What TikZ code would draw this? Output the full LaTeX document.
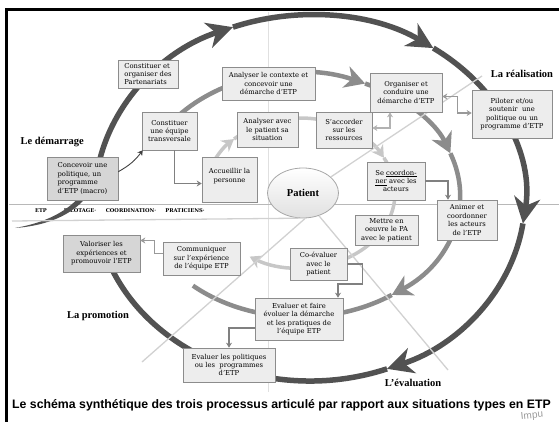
\documentclass[tikz,border=0pt]{standalone}
\usepackage{fontspec}
\setmainfont{DejaVu Serif}
\newfontfamily\titrefont{Liberation Serif}
\newfontfamily\legendefont{Liberation Sans}
\usetikzlibrary{arrows.meta,shadows,shapes.geometric}

\tikzset{
  etape/.style={draw=black!45, line width=0.6pt, fill=black!7, align=center,
    inner sep=1pt, font=\fontsize{6.8}{8.4}\selectfont,
    drop shadow={shadow xshift=1.2pt, shadow yshift=-1.2pt, opacity=0.3}},
  etapefonce/.style={etape, fill=black!16},
  phase/.style={font=\titrefont\fontsize{10.5}{12}\selectfont\bfseries},
  volet/.style={font=\fontsize{5.2}{6}\selectfont\bfseries, inner sep=0pt},
  lien/.style={draw=black!50, line width=1.2pt, -{Stealth[length=5pt,width=6pt]}},
  lienclair/.style={lien, draw=black!30},
  liensombre/.style={lien, draw=black!75, line width=0.9pt},
  rayon/.style={draw=black!18, line width=1.3pt},
  grand/.style={draw=black!68, line width=5.5pt},
  moyen/.style={draw=black!45, line width=4.5pt},
  petit/.style={draw=black!22, line width=3.5pt},
}

\begin{document}
\begin{tikzpicture}[x=1pt,y=1pt]
  \useasboundingbox (0,0) rectangle (559,-422);
  % cadre et reperes
  \draw[line width=3pt] (6.5,-422) -- (6.5,-9.5) -- (559,-9.5);
  \draw[black!12, line width=0.6pt] (268,-12) -- (268,-392);
  \draw[black!28, line width=0.8pt] (9,-204) -- (559,-204);
  \node[volet] (v1) at (41,-211) {ETP};
  \node[volet] (v2) at (80,-211) {PILOTAGE·};
  \node[volet] (v3) at (131,-211) {COORDINATION·};
  \node[volet] (v4) at (185,-211) {PRATICIENS·};

  % les trois processus
  \coordinate (co) at (310,-198);
  \coordinate (cm) at (300,-195);
  \coordinate (ci) at (300,-193);
  \fill[black!68] (15,-228) .. controls (55,-221) and (86,-203) .. (95.5,-166)
    -- (101,-166.8) .. controls (92,-207) and (57,-225) .. (15,-228);
  \foreach \p/\q in {170/111,111/55,55/-8,-8/-69}
    \draw[grand,-{Stealth[length=26pt,width=26pt,inset=8pt]}]
      ([shift={(\p:215pt and 183pt)}]co)
      arc[start angle=\p, end angle=\q, x radius=215pt, y radius=183pt];
  \draw[grand] ([shift={(-69:215pt and 183pt)}]co)
    arc[start angle=-69, end angle=-157, x radius=215pt, y radius=183pt];

  \foreach \p/\q in {140/66,66/20,20/-55}
    \draw[moyen,-{Stealth[length=20pt,width=22pt,inset=6pt]}]
      ([shift={(\p:160pt and 122pt)}]cm)
      arc[start angle=\p, end angle=\q, x radius=160pt, y radius=122pt];
  \draw[moyen] ([shift={(-55:160pt and 122pt)}]cm)
    arc[start angle=-55, end angle=-132, x radius=160pt, y radius=122pt];

  \foreach \p/\q in {160/134,134/28,28/-122}
    \draw[petit,-{Stealth[length=12pt,width=14pt,inset=4pt]}]
      ([shift={(\p:95pt and 75pt)}]ci)
      arc[start angle=\p, end angle=\q, x radius=95pt, y radius=75pt];

  % le patient et ses rayons
  \node[ellipse, draw=black!35, line width=0.8pt, top color=white, bottom color=black!12,
    minimum width=71pt, minimum height=50pt, inner sep=0pt,
    font=\titrefont\bfseries\fontsize{10.5}{12}\selectfont] (patient) at (303,-193) {Patient};
  \coordinate (rne) at (482,-76);
  \coordinate (rso) at (142,-362);
  \coordinate (rse) at (448,-370);
  \coordinate (ro) at (12,-221);
  \draw[rayon] (patient.30) -- (rne);
  \draw[rayon] (patient.-85) -- (rso);
  \draw[rayon] (patient.-55) -- (rse);
  \draw[rayon] (patient.-100) -- (ro);

  % etapes
  \node[etape, align=left, minimum width=60pt, minimum height=28pt] (partenariat) at (148,-74)
    {Constituer et\\organiser des\\Partenariats};
  \node[etape, minimum width=93pt, minimum height=33pt] (contexte) at (268.5,-83.5)
    {Analyser le contexte et\\concevoir une\\démarche d’ETP};
  \node[etape, minimum width=72pt, minimum height=39pt] (organiser) at (406,-92.5)
    {Organiser et\\conduire une\\démarche d’ETP};
  \node[etape, minimum width=80pt, minimum height=48pt] (piloter) at (512,-114)
    {Piloter et/ou\\soutenir\ \ une\\politique ou un\\programme d’ETP};
  \node[etape, minimum width=55pt, minimum height=38pt] (equipe) at (169.5,-131)
    {Constituer\\une équipe\\transversale};
  \node[etape, minimum width=61pt, minimum height=35pt] (analyse) at (267.5,-129.5)
    {Analyser avec\\le patient sa\\situation};
  \node[etape, minimum width=56pt, minimum height=36pt] (accorder) at (344,-130)
    {S’accorder\\sur les\\ressources};
  \node[etape, minimum width=55pt, minimum height=45pt] (accueil) at (229.5,-179.5)
    {Accueillir la\\personne\\~};
  \node[etapefonce, align=left, minimum width=71pt, minimum height=43pt] (concevoir) at (82.5,-178.5)
    {Concevoir une\\politique, un\\programme\\d’ETP (macro)};
  \node[etape, minimum width=58pt, minimum height=38pt] (coordon) at (396,-181)
    {Se \underline{coordon-}\\\underline{ner} avec les\\acteurs};
  \node[etape, minimum width=60pt, minimum height=40pt] (animer) at (467,-220)
    {Animer et\\coordonner\\les acteurs\\de l’ETP};
  \node[etape, minimum width=63pt, minimum height=30pt] (mettre) at (386.5,-230)
    {Mettre en\\oeuvre le PA\\avec le patient};
  \node[etape, minimum width=57pt, minimum height=32pt] (coeval) at (318.5,-264)
    {Co-évaluer\\avec le\\patient};
  \node[etape, minimum width=77pt, minimum height=33pt] (communiquer) at (201.5,-258.5)
    {Communiquer\\sur l’expérience\\de l’équipe ETP};
  \node[etapefonce, minimum width=77pt, minimum height=37pt] (valoriser) at (101.5,-253.5)
    {Valoriser les\\expériences et\\promouvoir l’ETP};
  \node[etape, minimum width=88pt, minimum height=42pt] (evalfaire) at (299,-319)
    {Evaluer et faire\\évoluer la démarche\\et les pratiques de\\l’équipe ETP};
  \node[etape, minimum width=92pt, minimum height=34pt] (evalpol) at (229,-365)
    {Evaluer les politiques\\ou les\ \ programmes\\d’ETP};

  % liens entre etapes
  \draw[liensombre] ([yshift=-15pt]concevoir.north east) to[bend right=12] ([xshift=1pt]equipe.south west);
  \draw[lien] ([xshift=5pt]equipe.south) |- ([yshift=-4pt]accueil.west);
  \draw[lienclair,{Stealth[length=5pt,width=6pt]}-{Stealth[length=5pt,width=6pt]}]
    ([xshift=-16pt]organiser.south) |- ([yshift=2pt]accorder.east);
  \draw[lien,draw=black!40,{Stealth[length=5pt,width=6pt]}-{Stealth[length=5pt,width=6pt]}]
    ([yshift=-4pt]organiser.east) -- ++(15,0) |- ([yshift=1pt]piloter.west);
  \draw[lien] (coordon.east) -| ([xshift=-19pt]animer.north);
  \draw[lien] (coeval.east) -- ++(15,0) -- ++(0,-20) -| ([xshift=39pt]evalfaire.north);
  \draw[lien] ([yshift=-9pt]evalfaire.west) -| (evalpol.north);
  \draw[lien,draw=black!40] ([yshift=5pt]communiquer.west) -- ++(-8,0) |- ([yshift=13pt]valoriser.east);

  % phases
  \node[phase, anchor=west] (demarrage) at (17,-142) {Le démarrage};
  \node[phase] (realisation) at (522,-74) {La réalisation};
  \node[phase] (promotion) at (98,-316) {La promotion};
  \node[phase] (evaluation) at (413,-383) {L’évaluation};

  % legende
  \node[anchor=base west, inner sep=0pt, font=\legendefont\bfseries\fontsize{12.3}{14}\selectfont]
    (legende) at (12,-408)
    {Le schéma synthétique des trois processus articulé par rapport aux situations types en ETP};
  \node[text=black!40, rotate=6, inner sep=0pt, font=\legendefont\fontsize{10}{10}\selectfont]
    (marque) at (532,-416) {Impu};
\end{tikzpicture}
\end{document}
